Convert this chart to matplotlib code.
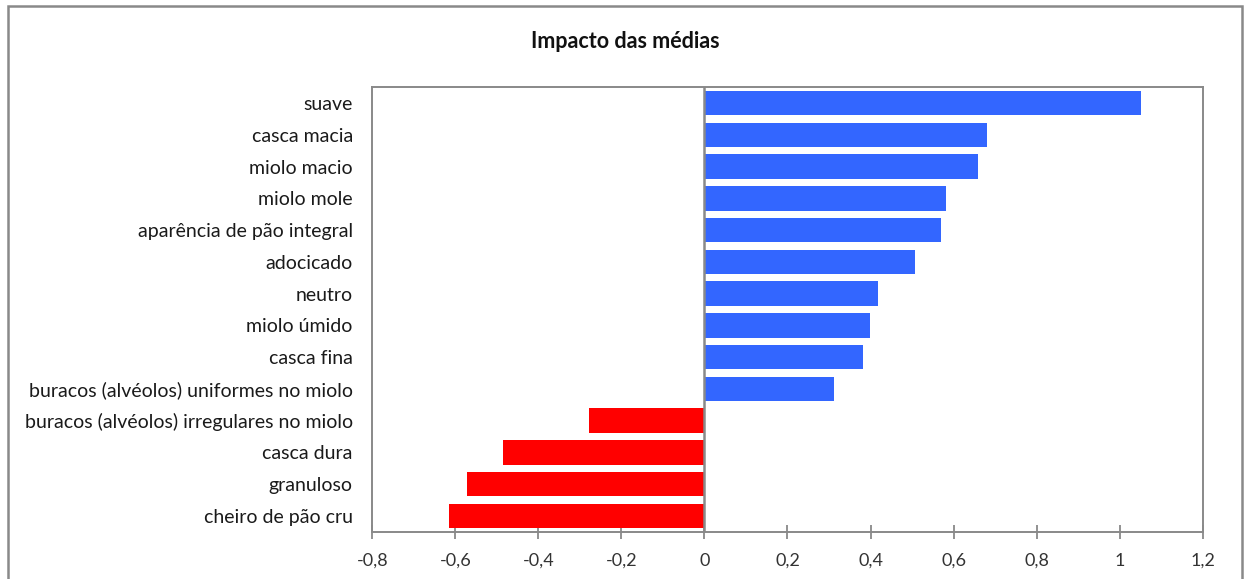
import matplotlib
matplotlib.use("Agg")
import matplotlib.pyplot as plt
from matplotlib.patches import Rectangle
from matplotlib.ticker import FuncFormatter, MultipleLocator

plt.rcParams['font.family'] = ['Lato', 'DejaVu Sans']

# atributos e impacto na média (de cima para baixo)
atributos = [
    "suave",
    "casca macia",
    "miolo macio",
    "miolo mole",
    "aparência de pão integral",
    "adocicado",
    "neutro",
    "miolo úmido",
    "casca fina",
    "buracos (alvéolos) uniformes no miolo",
    "buracos (alvéolos) irregulares no miolo",
    "casca dura",
    "granuloso",
    "cheiro de pão cru",
]
impacto = [1.052, 0.681, 0.660, 0.582, 0.570, 0.506, 0.419, 0.398, 0.383,
           0.311, -0.279, -0.485, -0.573, -0.615]

azul = "#3366FF"
vermelho = "#FF0000"
cinza = "#898989"

fig = plt.figure(figsize=(12.46, 5.79), dpi=100)
ax = fig.add_axes([0.2988, 0.0817, 0.6664, 0.7675])

pos = list(range(len(atributos)))
cores = [azul if v > 0 else vermelho for v in impacto]
ax.barh(pos, impacto, height=0.77, color=cores, edgecolor="none", zorder=2)

ax.set_ylim(len(atributos) - 0.5, -0.5)
ax.set_xlim(-0.8, 1.2)
ax.set_yticks(pos)
ax.set_yticklabels(atributos, fontsize=14, color="#1a1a1a")
ax.tick_params(axis="y", length=0, pad=14)

ax.xaxis.set_major_locator(MultipleLocator(0.2))
fmt = lambda x, p: ("%g" % round(x, 1)).replace(".", ",")
ax.xaxis.set_major_formatter(FuncFormatter(fmt))
ax.tick_params(axis="x", direction="inout", length=10, width=1.3, color=cinza,
               labelsize=13, labelcolor="#333333", pad=10)

for s in ax.spines.values():
    s.set_color(cinza)
    s.set_linewidth(1.4)

# linha do zero
ax.axvline(0, color=cinza, linewidth=1.8, zorder=3)

fig.text(0.502, 0.928, "Impacto das médias", ha="center", va="center",
         fontsize=15.5, fontweight="bold", color="#111111")

# borda da área do gráfico
borda = Rectangle((8 / 1246, -0.05), (1241.5 - 8) / 1246, 1.05 - 6 / 579,
                  transform=fig.transFigure, fill=False, edgecolor=cinza,
                  linewidth=1.8, clip_on=False)
fig.patches.append(borda)

fig.savefig("out.png", dpi=100)
